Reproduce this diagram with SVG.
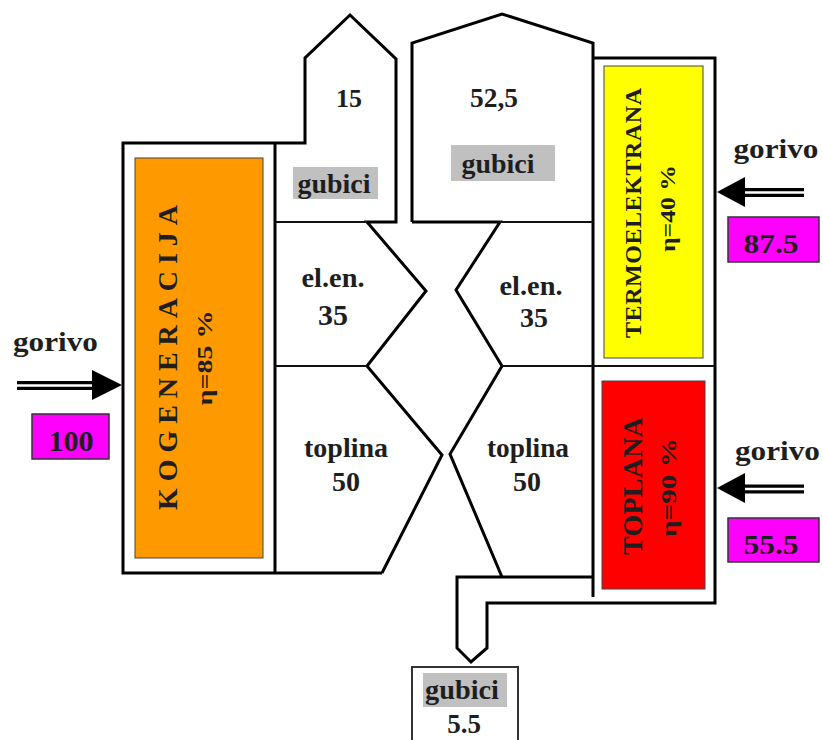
<svg xmlns="http://www.w3.org/2000/svg" width="823" height="740" viewBox="0 0 823 740">
<style>
.o{fill:none;stroke:#000;stroke-width:3;stroke-linejoin:miter}
.d{fill:none;stroke:#111;stroke-width:2}
.t{font-family:"Liberation Serif","Times New Roman",serif;font-weight:bold;fill:#1e1e1e;text-anchor:middle}
.g{fill:#c0c0c0}
.m{fill:#ff00ff;stroke:#333;stroke-width:1.5}
.b{fill:none;stroke:#000;stroke-width:9}
.w{fill:none;stroke:#fff;stroke-width:2.6}
.h{fill:#000}
.n{stroke:#444;stroke-width:1}
</style>
<rect width="823" height="740" fill="#fff"/>

<g id="flows">
<path class="o" d="M382,573 L123,573 L123,143 L305,143 L305,58 L350,15 L396,59 L396,222 L367,222 L426,291 L367,366 L442,455 L382,573"/>
<line class="o" x1="275" y1="143" x2="275" y2="573"/>
<line class="d" x1="275" y1="222" x2="367" y2="222"/>
<line class="d" x1="275" y1="366" x2="367" y2="366"/>
<path class="o" d="M412,222 L412,43 L502,14 L593,43 L593,597"/>
<path class="o" d="M412,222 L500,222 L456,290 L502,366 L450,454 L502,577"/>
<path class="o" d="M593,577 L457,577 L457,648 L471,662 L487,648 L487,603 L715,603 L715,58 L593,58"/>
<line class="d" x1="500" y1="222" x2="593" y2="222"/>
<line class="d" x1="502" y1="366" x2="715" y2="366"/>
</g>

<g id="kogeneracija">
<rect class="n" x="135" y="158" width="128" height="400" fill="#ff9900"/>
<text class="t" transform="translate(177,357.5) rotate(-90)" font-size="28" textLength="305" lengthAdjust="spacing">KOGENERACIJA</text>
<text class="t" transform="translate(212,358) rotate(-90)" font-size="20" textLength="95" lengthAdjust="spacingAndGlyphs">η=85 %</text>
</g>

<g id="termoelektrana">
<rect class="n" x="604" y="66" width="99" height="292" fill="#ffff00"/>
<text class="t" transform="translate(641,213) rotate(-90)" font-size="24" textLength="250" lengthAdjust="spacing">TERMOELEKTRANA</text>
<text class="t" transform="translate(675,208.5) rotate(-90)" font-size="20" textLength="87" lengthAdjust="spacingAndGlyphs">η=40 %</text>
</g>

<g id="toplana">
<rect class="n" x="602" y="381" width="103" height="208" fill="#ff0000"/>
<text class="t" transform="translate(642,486) rotate(-90)" font-size="28" textLength="138" lengthAdjust="spacing">TOPLANA</text>
<text class="t" transform="translate(676,487.5) rotate(-90)" font-size="20" textLength="99" lengthAdjust="spacingAndGlyphs">η=90 %</text>
</g>

<g id="gubici-kogeneracija">
<text class="t" x="349" y="107" font-size="26">15</text>
<rect class="g" x="293" y="167" width="85" height="32"/>
<text class="t" x="334" y="193" font-size="27" textLength="73" lengthAdjust="spacingAndGlyphs">gubici</text>
</g>

<g id="gubici-termoelektrana">
<text class="t" x="494" y="107" font-size="27" textLength="48" lengthAdjust="spacingAndGlyphs">52,5</text>
<rect class="g" x="451" y="145" width="104" height="36"/>
<text class="t" x="498" y="173" font-size="27" textLength="73" lengthAdjust="spacingAndGlyphs">gubici</text>
</g>

<g id="gubici-toplana">
<rect x="412" y="667" width="106" height="80" fill="#fff" stroke="#333" stroke-width="2"/>
<rect class="g" x="423" y="673" width="84" height="34"/>
<text class="t" x="462" y="699" font-size="27" textLength="74" lengthAdjust="spacingAndGlyphs">gubici</text>
<text class="t" x="464" y="733" font-size="27">5.5</text>
</g>

<g id="flow-labels">
<text class="t" x="333" y="287" font-size="27" textLength="63" lengthAdjust="spacingAndGlyphs">el.en.</text>
<text class="t" x="333" y="325" font-size="30">35</text>
<text class="t" x="346" y="457" font-size="27" textLength="84" lengthAdjust="spacingAndGlyphs">toplina</text>
<text class="t" x="346" y="491" font-size="28">50</text>
<text class="t" x="531" y="295" font-size="27" textLength="63" lengthAdjust="spacingAndGlyphs">el.en.</text>
<text class="t" x="534" y="327" font-size="28">35</text>
<text class="t" x="528" y="457" font-size="27" textLength="82" lengthAdjust="spacingAndGlyphs">toplina</text>
<text class="t" x="527" y="491" font-size="28">50</text>
</g>

<g id="gorivo-kogeneracija">
<text class="t" x="55.5" y="350.5" font-size="27" textLength="85" lengthAdjust="spacingAndGlyphs">gorivo</text>
<rect class="m" x="32" y="414" width="77" height="45"/>
<text class="t" x="71" y="451" font-size="30">100</text>
</g>

<g id="gorivo-termoelektrana">
<text class="t" x="776" y="158" font-size="27" textLength="85" lengthAdjust="spacingAndGlyphs">gorivo</text>
<rect class="m" x="728" y="217" width="91" height="45"/>
<text class="t" x="771" y="253" font-size="28" textLength="55" lengthAdjust="spacingAndGlyphs">87.5</text>
</g>

<g id="gorivo-toplana">
<text class="t" x="777.5" y="460" font-size="27" textLength="85" lengthAdjust="spacingAndGlyphs">gorivo</text>
<rect class="m" x="728" y="518" width="91" height="44"/>
<text class="t" x="771" y="554" font-size="28" textLength="55" lengthAdjust="spacingAndGlyphs">55.5</text>
</g>

<g id="connectors">
<line class="b" x1="17" y1="385.5" x2="94" y2="385.5"/>
<line class="w" x1="17" y1="385.5" x2="94" y2="385.5"/>
<polygon class="h" points="92,370 122,385 92,400"/>
<line class="b" x1="743" y1="192.5" x2="804" y2="192.5"/>
<line class="w" x1="743" y1="192.5" x2="804" y2="192.5"/>
<polygon class="h" points="745,177 717,192 745,207"/>
<line class="b" x1="743" y1="489" x2="804" y2="489"/>
<line class="w" x1="743" y1="489" x2="804" y2="489"/>
<polygon class="h" points="745,473 717,488 745,503"/>
</g>
</svg>
